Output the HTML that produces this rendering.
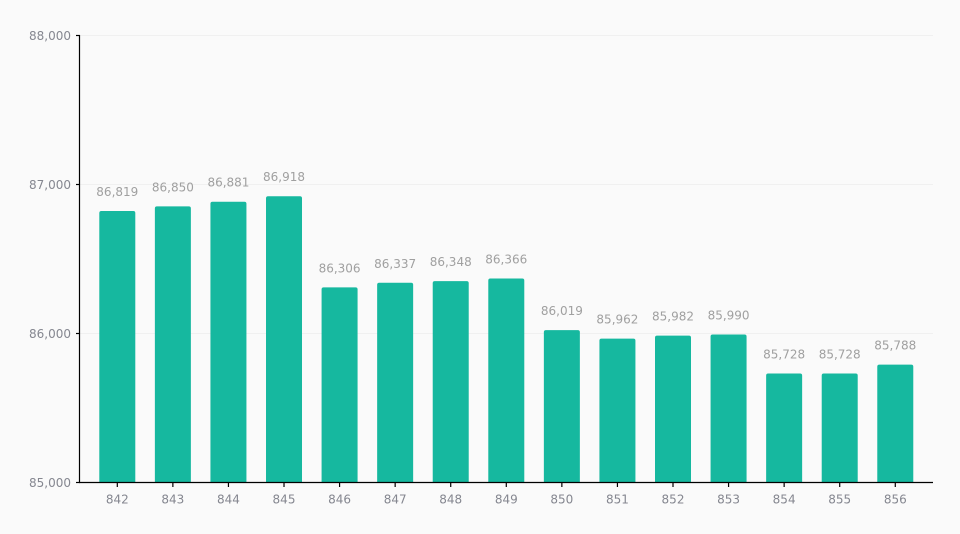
<!DOCTYPE html>
<html><head><meta charset="utf-8"><style>
html,body{margin:0;padding:0;background:#fafafa;}
svg{display:block;}
text{font-family:"DejaVu Sans",Verdana,sans-serif;font-size:12px;}
</style></head><body>
<svg width="960" height="534" viewBox="0 0 960 534" xmlns="http://www.w3.org/2000/svg">
<rect width="960" height="534" fill="#fafafa"/>
<g stroke="#f0f0f0" stroke-width="1">
<line x1="80" y1="35.5" x2="933" y2="35.5"/>
<line x1="80" y1="184.5" x2="933" y2="184.5"/>
<line x1="80" y1="333.5" x2="933" y2="333.5"/>
</g>
<g id="bars"></g>
<g stroke="#000" stroke-width="1.2">
<line x1="79.5" y1="35" x2="79.5" y2="482"/>
<line x1="79" y1="482.5" x2="933" y2="482.5"/>
<line x1="76" y1="35.5" x2="80" y2="35.5"/>
<line x1="76" y1="184.5" x2="80" y2="184.5"/>
<line x1="76" y1="333.5" x2="80" y2="333.5"/>
<line x1="76" y1="482.5" x2="80" y2="482.5"/>
</g>
<g fill="#858790" text-anchor="end">
<text x="71" y="40">88,000</text>
<text x="71" y="189">87,000</text>
<text x="71" y="338">86,000</text>
<text x="71" y="487">85,000</text>
</g>
<g id="xl"></g>
</svg>
<script>
(function(){
var vals=[86819,86850,86881,86918,86306,86337,86348,86366,86019,85962,85982,85990,85728,85728,85788];
var labels=["86,819","86,850","86,881","86,918","86,306","86,337","86,348","86,366","86,019","85,962","85,982","85,990","85,728","85,728","85,788"];
var ns="http://www.w3.org/2000/svg";
var bars=document.getElementById('bars'),xl=document.getElementById('xl');
function el(t,a,p,txt){var e=document.createElementNS(ns,t);for(var k in a)e.setAttribute(k,a[k]);if(txt)e.textContent=txt;p.appendChild(e);return e;}
for(var i=0;i<vals.length;i++){
 var c=117.3+i*55.57;
 var ty=482-(vals[i]-85000)*0.149;
 var x=c-18,w=36,r=2;
 el('path',{d:'M'+x+' 482 V'+(ty+r)+' Q'+x+' '+ty+' '+(x+r)+' '+ty+' H'+(x+w-r)+' Q'+(x+w)+' '+ty+' '+(x+w)+' '+(ty+r)+' V482 Z',fill:'#16b89f'},bars);
 el('text',{x:c,y:ty-15,'text-anchor':'middle',fill:'#a0a0a0'},bars,labels[i]);
 el('line',{x1:c,y1:482,x2:c,y2:487,stroke:'#000','stroke-width':1.2},xl);
 el('text',{x:c,y:503.5,'text-anchor':'middle',fill:'#858790'},xl,String(842+i));
}
})();
</script>
</body></html>
